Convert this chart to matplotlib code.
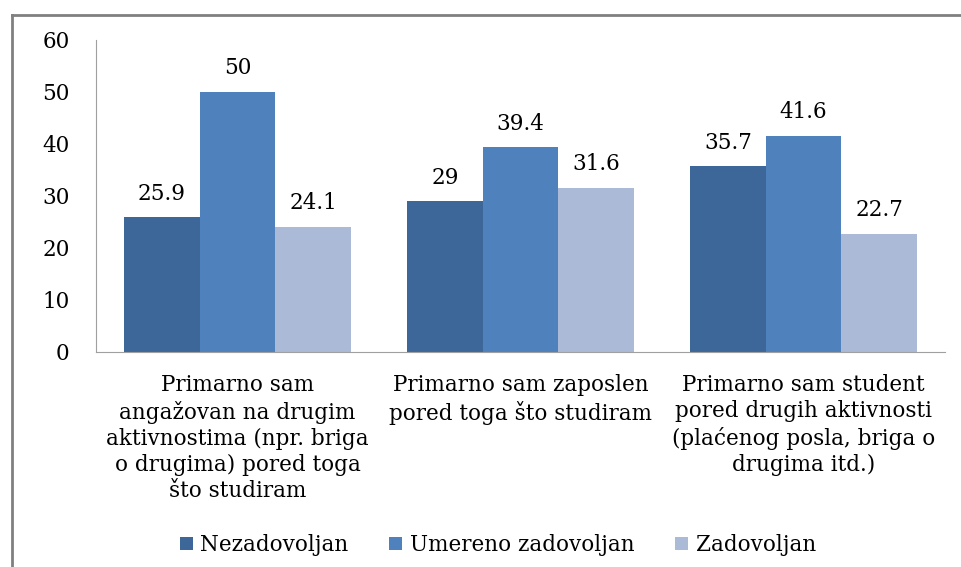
import matplotlib.pyplot as plt
import numpy as np
from matplotlib.lines import Line2D

categories = ["Primarno sam\nangažovan na drugim\naktivnostima (npr. briga\no drugima) pored toga\nšto studiram",
              "Primarno sam zaposlen\npored toga što studiram",
              "Primarno sam student\npored drugih aktivnosti\n(plaćenog posla, briga o\ndrugima itd.)"]
series = ["Nezadovoljan", "Umereno zadovoljan", "Zadovoljan"]
nezadovoljan = [25.9, 29, 35.7]
umereno = [50, 39.4, 41.6]
zadovoljan = [24.1, 31.6, 22.7]
labels = [["25.9", "29", "35.7"], ["50", "39.4", "41.6"], ["24.1", "31.6", "22.7"]]
colors = ["#3c6798", "#4f81bd", "#aabad7"]

plt.rcParams['font.family'] = ['DejaVu Serif']
fs = 15.5
fig = plt.figure(figsize=(9.62, 5.67), dpi=100)
ax = fig.add_axes([96/962, 1-352/567, (945-96)/962, (352-40)/567])

x = np.arange(len(categories))
w = 0.267
for i, vals in enumerate([nezadovoljan, umereno, zadovoljan]):
    bars = ax.bar(x + (i-1)*w, vals, w, color=colors[i], label=series[i])
    for b, v, t in zip(bars, vals, labels[i]):
        ax.annotate(t, (b.get_x()+b.get_width()/2, v), xytext=(0, 17),
                    textcoords='offset points', ha='center', va='center', fontsize=fs)

ax.set_xlim(-0.5, 2.5)
ax.set_ylim(0, 60)
ax.set_yticks(range(0, 61, 10))
ax.set_xticks(x)
ax.set_xticklabels(categories, fontsize=fs, linespacing=1.24)
ax.tick_params(axis='y', length=0, pad=19, labelsize=fs)
ax.tick_params(axis='x', length=0, pad=16)
for s in ['top', 'right']:
    ax.spines[s].set_visible(False)
for s in ['left', 'bottom']:
    ax.spines[s].set_color('#a0a0a0')

fig.add_artist(Line2D([12/962, 12/962], [0, 1-15/567], color='#808080', lw=2))
fig.add_artist(Line2D([12/962, 1], [1-15/567, 1-15/567], color='#808080', lw=2))

fig.legend(loc='center', bbox_to_anchor=(498/962, 1-545/567), ncol=3, frameon=False,
           fontsize=fs, handlelength=0.6, handleheight=0.6, handletextpad=0.35, columnspacing=1.9)

fig.savefig("out.png", dpi=100)
